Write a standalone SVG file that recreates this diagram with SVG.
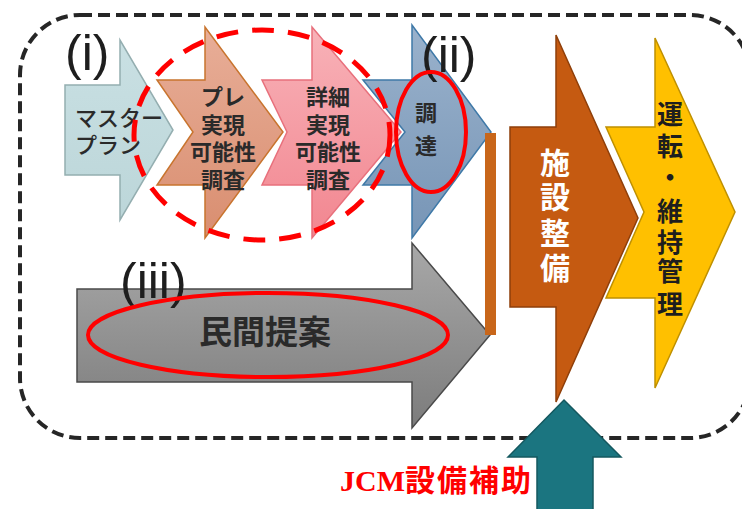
<svg xmlns="http://www.w3.org/2000/svg" width="742" height="509" viewBox="0 0 742 509">
<defs>
<linearGradient id="gBlue1" x1="0" y1="0" x2="0" y2="1"><stop offset="0" stop-color="#c9e0e3"/><stop offset="1" stop-color="#bcd6d9"/></linearGradient>
<linearGradient id="gBrown" x1="0" y1="0" x2="0" y2="1"><stop offset="0" stop-color="#e8ae98"/><stop offset="1" stop-color="#d98e70"/></linearGradient>
<linearGradient id="gPink" x1="0" y1="0" x2="0" y2="1"><stop offset="0" stop-color="#f8b2b8"/><stop offset="1" stop-color="#f28690"/></linearGradient>
<linearGradient id="gBlue2" x1="0" y1="0" x2="0" y2="1"><stop offset="0" stop-color="#9ab2cc"/><stop offset="1" stop-color="#7795b6"/></linearGradient>
<linearGradient id="gGrey" x1="0" y1="0" x2="0" y2="1"><stop offset="0" stop-color="#a8a8a8"/><stop offset="1" stop-color="#7c7c7c"/></linearGradient>
</defs>
<style>
.lbl{font-family:"Noto Sans CJK JP","Noto Sans",sans-serif;fill:#2a2a2a;text-anchor:middle}
.num{font-family:"Liberation Sans","Noto Sans",sans-serif;fill:#1e1e1e;font-size:50px}
.redE{fill:none;stroke:#ff0000}
</style>
<g id="frame">
<rect x="20" y="15" width="730" height="423" rx="60" ry="60" fill="none" stroke="#262626" stroke-width="4" stroke-dasharray="12 6"/>
</g>
<g id="connectors"></g>
<g id="masterplan">
<path d="M65,85 H120 V40 L173,130 L120,220 V175 H65 Z" fill="url(#gBlue1)" stroke="#94aeb0" stroke-width="1.5"/>
<text class="lbl" font-size="22" font-weight="500" style="text-anchor:start"><tspan x="75" y="126">マスター</tspan><tspan x="75" y="153">プラン</tspan></text>
</g>
<g id="prefs">
<path d="M157,80 H205 V27 L283,132 L205,238 V185 H157 L193,132 Z" fill="url(#gBrown)" stroke="#c8742e" stroke-width="1.5"/>
<text class="lbl" font-size="22" font-weight="bold"><tspan x="223" y="105">プレ</tspan><tspan x="223" y="133">実現</tspan><tspan x="223" y="160">可能性</tspan><tspan x="223" y="188">調査</tspan></text>
</g>
<g id="procurement">
<path d="M363,80 H412 V25 L491,132 L412,238 V185 H363 L405,132 Z" fill="url(#gBlue2)" stroke="#3f79a8" stroke-width="1.5"/>
<text class="lbl" font-size="22" font-weight="bold"><tspan x="426" y="121">調</tspan><tspan x="426" y="154">達</tspan></text>
</g>
<g id="fs">
<path d="M262,80 H312 V27 L401,132 L312,238 V185 H262 L287,132 Z" fill="url(#gPink)" stroke="#e8707c" stroke-width="1.5"/>
<text class="lbl" font-size="22" font-weight="bold"><tspan x="328" y="105">詳細</tspan><tspan x="328" y="133">実現</tspan><tspan x="328" y="160">可能性</tspan><tspan x="328" y="188">調査</tspan></text>
</g>
<g id="proposal">
<path d="M77,289 H412 V243 L490,335 L412,428 V382 H77 Z" fill="url(#gGrey)" stroke="#4a4a4a" stroke-width="1.5"/>
<text class="lbl" font-size="33" font-weight="bold" x="265" y="344">民間提案</text>
</g>
<g id="bar">
<rect x="485" y="133" width="11" height="202" fill="#c8661a"/>
</g>
<g id="construction">
<path d="M510,127 H556 V35 L638,218 L556,402 V307 H510 Z" fill="#c55a11" stroke="#8f3f0a" stroke-width="1.5"/>
<text class="lbl" font-size="30" font-weight="bold" style="fill:#ffffff"><tspan x="555" y="174">施</tspan><tspan x="555" y="208">設</tspan><tspan x="555" y="244">整</tspan><tspan x="555" y="279">備</tspan></text>
</g>
<g id="operation">
<path d="M606,127 H655 V38 L735,212 L655,388 V298 H606 L644,212 Z" fill="#ffc000" stroke="#bf9000" stroke-width="1.5"/>
<text class="lbl" font-size="26" font-weight="bold" style="fill:#1e1e1e"><tspan x="670" y="124">運</tspan><tspan x="670" y="156">転</tspan><tspan x="670" y="187">・</tspan><tspan x="670" y="221">維</tspan><tspan x="670" y="252">持</tspan><tspan x="670" y="281">管</tspan><tspan x="670" y="314">理</tspan></text>
</g>
<g id="support">
<path d="M564,400 L621,457 H593 V512 H537 V457 H508 Z" fill="#1b7580" stroke="#14585f" stroke-width="1.5"/>
<text x="340" y="491" font-size="30" font-weight="bold" fill="#ff0000" font-family="&quot;Noto Sans CJK JP&quot;,sans-serif"><tspan font-family="&quot;Liberation Serif&quot;,serif">JCM</tspan><tspan letter-spacing="2">設備補助</tspan></text>
</g>
<g id="labels">
<text class="num" x="65" y="70">(i)</text>
<text class="num" x="421" y="72">(ii)</text>
<text class="num" x="120" y="298">(iii)</text>
</g>
<g id="highlights">
<ellipse class="redE" cx="262" cy="135" rx="128" ry="105" stroke-width="5" stroke-dasharray="22 14"/>
<ellipse class="redE" cx="431" cy="132" rx="35" ry="60" stroke-width="4"/>
<ellipse class="redE" cx="268" cy="335" rx="180" ry="42" stroke-width="4"/>
</g>
</svg>
